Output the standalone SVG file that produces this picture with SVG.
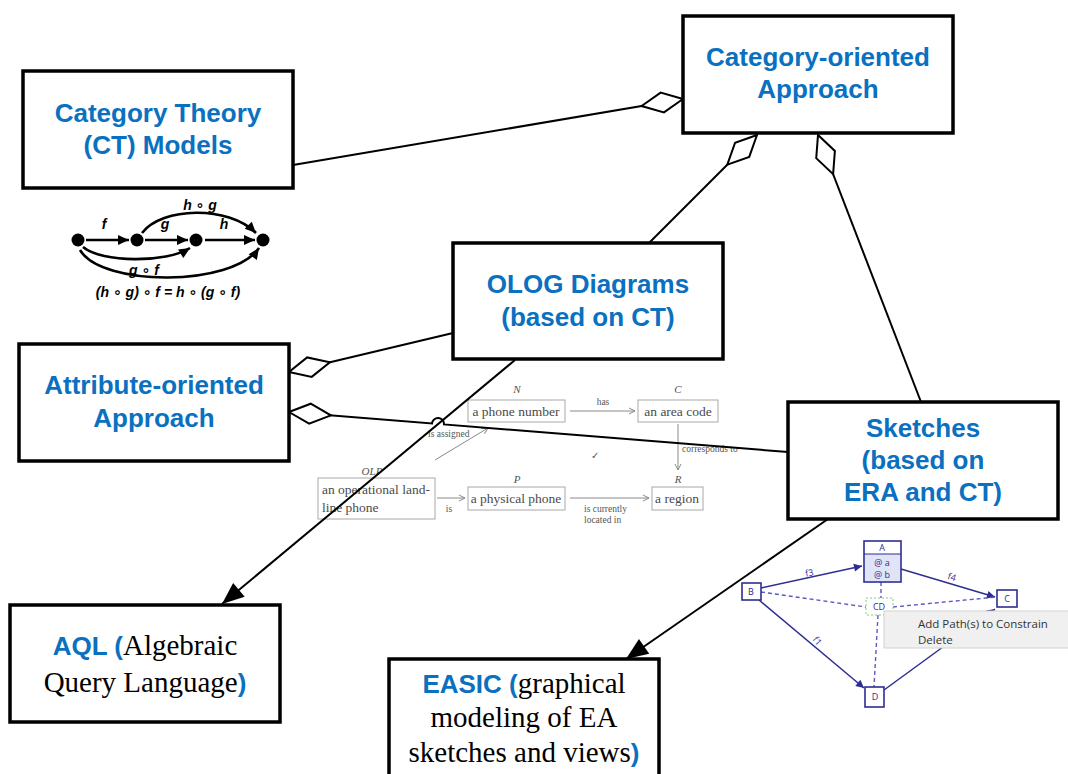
<svg xmlns="http://www.w3.org/2000/svg" width="1068" height="774" viewBox="0 0 1068 774">
  <style>
    .box { fill: #ffffff; stroke: #000000; stroke-width: 3.5; }
    .ttl { font-family: "Liberation Sans", Arial, sans-serif; font-weight: bold; font-size: 26px; fill: #0a70c0; text-anchor: middle; }
    .srf { font-family: "Liberation Serif", "Times New Roman", serif; font-weight: normal; fill: #000000; font-size: 29px; }
    .con { fill: none; stroke: #000000; stroke-width: 2; }
    .ct { font-family: "Liberation Sans", "DejaVu Sans", sans-serif; font-weight: bold; font-style: italic; font-size: 14px; fill: #000; text-anchor: middle; }
    .ctl { fill: none; stroke: #000; stroke-width: 2.6; }
    .olb { fill: #ffffff; stroke: #a8a8a8; stroke-width: 1; }
    .olt { font-family: "Liberation Serif", serif; font-size: 13.5px; fill: #4a4a4a; }
    .ols { font-family: "Liberation Serif", serif; font-size: 9.5px; fill: #555; }
    .oli { font-family: "Liberation Serif", serif; font-style: italic; font-size: 11px; fill: #555; text-anchor: middle; }
    .oll { fill: none; stroke: #8a8a8a; stroke-width: 1; }
    .skb { fill: #ffffff; stroke: #2d2d92; stroke-width: 1.6; }
    .ske { fill: none; stroke: #2d2d92; stroke-width: 1.5; }
    .skd { fill: none; stroke: #5a5ac0; stroke-width: 1.4; stroke-dasharray: 4 3; }
    .skt { font-family: "Open Sans", "Noto Sans", sans-serif; font-size: 9px; fill: #2d2d92; text-anchor: middle; }
    .mnu { font-family: "Open Sans", "Noto Sans", sans-serif; font-size: 11.5px; fill: #333; }
  </style>
  <defs>
    <marker id="diamond" viewBox="-44 -12 46 24" refX="0" refY="0" markerWidth="46" markerHeight="24" markerUnits="userSpaceOnUse" orient="auto">
      <path d="M0,0 L-21,-10 L-42,0 L-21,10 Z" fill="#ffffff" stroke="#000" stroke-width="2" stroke-linejoin="miter"/>
    </marker>
    <marker id="arrow" viewBox="-24 -11 26 22" refX="0" refY="0" markerWidth="26" markerHeight="22" markerUnits="userSpaceOnUse" orient="auto">
      <path d="M0,0 L-22,-9 L-22,9 Z" fill="#000"/>
    </marker>
    <marker id="ctarrow" viewBox="-12 -6 13 12" refX="0" refY="0" markerWidth="13" markerHeight="12" markerUnits="userSpaceOnUse" orient="auto">
      <path d="M0,0 L-11,-5 L-11,5 Z" fill="#000"/>
    </marker>
    <marker id="olarrow" viewBox="-8 -4 9 8" refX="0" refY="0" markerWidth="9" markerHeight="8" markerUnits="userSpaceOnUse" orient="auto">
      <path d="M0,0 L-6,-3 M0,0 L-6,3" fill="none" stroke="#8a8a8a" stroke-width="1"/>
    </marker>
    <marker id="skarrow" viewBox="-9 -5 10 10" refX="0" refY="0" markerWidth="10" markerHeight="10" markerUnits="userSpaceOnUse" orient="auto">
      <path d="M0,0 L-8,-4 L-8,4 Z" fill="#2d2d92"/>
    </marker>
  </defs>

  <rect x="0" y="0" width="1068" height="774" fill="#ffffff"/>

  <!-- small category theory composition picture -->
  <g id="ct-composition">
    <path class="ctl" d="M86,240 L129,240" marker-end="url(#ctarrow)"/>
    <path class="ctl" d="M145,240 L188,240" marker-end="url(#ctarrow)"/>
    <path class="ctl" d="M205,240 L255,240" marker-end="url(#ctarrow)"/>
    <path class="ctl" d="M142,233 C162,207 228,205 256,233" marker-end="url(#ctarrow)"/>
    <path class="ctl" d="M83,247 C102,263 166,263 190,248" marker-end="url(#ctarrow)"/>
    <path class="ctl" d="M80,250 C102,287 232,287 259,248" marker-end="url(#ctarrow)"/>
    <circle cx="78" cy="240" r="6.5" fill="#000"/>
    <circle cx="137" cy="240" r="6.5" fill="#000"/>
    <circle cx="196" cy="240" r="6.5" fill="#000"/>
    <circle cx="263" cy="240" r="6.5" fill="#000"/>
    <text class="ct" x="104" y="229">f</text>
    <text class="ct" x="165" y="229">g</text>
    <text class="ct" x="224" y="229">h</text>
    <text class="ct" x="200" y="210">h ∘ g</text>
    <text class="ct" x="144" y="275">g ∘ f</text>
    <text class="ct" x="168" y="297">(h ∘ g) ∘ f = h ∘ (g ∘ f)</text>
  </g>

  <!-- olog example picture -->
  <g id="olog-example">
    <text class="oli" x="517" y="393">N</text>
    <rect class="olb" x="468" y="400" width="97" height="22"/>
    <text class="olt" x="516" y="416" text-anchor="middle">a phone number</text>
    <path class="oll" d="M570,411 L635,411" marker-end="url(#olarrow)"/>
    <text class="ols" x="603" y="405" text-anchor="middle">has</text>
    <text class="oli" x="678" y="393">C</text>
    <rect class="olb" x="638" y="400" width="80" height="22"/>
    <text class="olt" x="678" y="416" text-anchor="middle">an area code</text>
    <path class="oll" d="M678,424 L678,470" marker-end="url(#olarrow)"/>
    <text class="ols" x="682" y="452">corresponds to</text>
    <text class="oli" x="678" y="483">R</text>
    <rect class="olb" x="652" y="487" width="51" height="23"/>
    <text class="olt" x="677" y="503" text-anchor="middle">a region</text>
    <text class="oli" x="372" y="475">OLP</text>
    <rect class="olb" x="318" y="478" width="117" height="41"/>
    <text class="olt" x="322" y="494">an operational land-</text>
    <text class="olt" x="322" y="512">line phone</text>
    <path class="oll" d="M437,498 L465,498" marker-end="url(#olarrow)"/>
    <text class="ols" x="449" y="512" text-anchor="middle">is</text>
    <text class="oli" x="517" y="483">P</text>
    <rect class="olb" x="468" y="487" width="97" height="23"/>
    <text class="olt" x="516" y="503" text-anchor="middle">a physical phone</text>
    <path class="oll" d="M570,498 L649,498" marker-end="url(#olarrow)"/>
    <text class="ols" x="584" y="512">is currently</text>
    <text class="ols" x="584" y="523">located in</text>
    <path class="oll" d="M435,460 L488,428" marker-end="url(#olarrow)"/>
    <text class="ols" x="428" y="437">is assigned</text>
    <text class="ols" x="595" y="459" text-anchor="middle">✓</text>
  </g>

  <!-- sketch editor picture -->
  <g id="sketch-editor">
    <path class="ske" d="M761,588 L862,566" marker-end="url(#skarrow)"/>
    <path class="ske" d="M901,569 L995,597" marker-end="url(#skarrow)"/>
    <path class="ske" d="M759,600 L864,688" marker-end="url(#skarrow)"/>
    <path class="ske" d="M884,690 L995,609" marker-end="url(#skarrow)"/>
    <path class="skd" d="M761,592 L866,607"/>
    <path class="skd" d="M893,607 L997,597"/>
    <path class="skd" d="M881,582 L881,598" stroke-dasharray="2 2"/>
    <path class="skd" d="M878,615 L874,687" stroke-dasharray="2 2"/>
    <rect class="skb" x="864" y="541" width="37" height="41"/>
    <rect x="865" y="554" width="35" height="27" fill="#dfe4f6"/>
    <line x1="864" y1="554" x2="901" y2="554" stroke="#2d2d92" stroke-width="1"/>
    <text class="skt" x="882" y="551">A</text>
    <text class="skt" x="882" y="566">@ a</text>
    <text class="skt" x="882" y="578">@ b</text>
    <rect class="skb" x="742" y="583" width="19" height="17"/>
    <text class="skt" x="751" y="595">B</text>
    <rect class="skb" x="997" y="590" width="20" height="17"/>
    <text class="skt" x="1007" y="602">C</text>
    <rect class="skb" x="865" y="687" width="19" height="20"/>
    <text class="skt" x="875" y="700">D</text>
    <rect x="866" y="598" width="27" height="17" fill="#ffffff" stroke="#7fd07f" stroke-width="1" stroke-dasharray="2 2"/>
    <text class="skt" x="879" y="610">CD</text>
    <text class="skt" x="810" y="576" transform="rotate(-12 810 576)">f3</text>
    <text class="skt" x="951" y="580" transform="rotate(17 951 580)">f4</text>
    <text class="skt" x="815" y="643" transform="rotate(50 815 643)">f1</text>
    <rect x="884" y="611" width="186" height="37" fill="#f0f0f0" stroke="#d2d2d2" stroke-width="1"/>
    <text class="mnu" x="918" y="628">Add Path(s) to Constrain</text>
    <text class="mnu" x="918" y="644">Delete</text>
  </g>

  <!-- connectors -->
  <g id="connectors">
    <path class="con" d="M293,165 L683,99" marker-end="url(#diamond)"/>
    <path class="con" d="M649,243 L757,135" marker-end="url(#diamond)"/>
    <path class="con" d="M921,402 L818,135" marker-end="url(#diamond)"/>
    <path class="con" d="M453,333 L289,372" marker-end="url(#diamond)"/>
    <path class="con" d="M788,452 L444,424.4 A6,6 0 0 0 432,423.5 L289,412" marker-end="url(#diamond)"/>
    <path class="con" d="M515,360 L222,604" marker-end="url(#arrow)"/>
    <path class="con" d="M828,519 L626,659" marker-end="url(#arrow)"/>
  </g>

  <g id="node-ct-models">
    <rect class="box" x="23" y="71" width="270" height="117"/>
    <text class="ttl" x="158" y="122">Category Theory</text>
    <text class="ttl" x="158" y="154">(CT) Models</text>
  </g>

  <g id="node-category-oriented">
    <rect class="box" x="683" y="16" width="270" height="117"/>
    <text class="ttl" x="818" y="66">Category-oriented</text>
    <text class="ttl" x="818" y="98">Approach</text>
  </g>

  <g id="node-olog">
    <rect class="box" x="453" y="243" width="270" height="116"/>
    <text class="ttl" x="588" y="293">OLOG Diagrams</text>
    <text class="ttl" x="588" y="326">(based on CT)</text>
  </g>

  <g id="node-attribute-oriented">
    <rect class="box" x="19" y="344" width="270" height="117"/>
    <text class="ttl" x="154" y="394">Attribute-oriented</text>
    <text class="ttl" x="154" y="427">Approach</text>
  </g>

  <g id="node-sketches">
    <rect class="box" x="788" y="402" width="270" height="117"/>
    <text class="ttl" x="923" y="437">Sketches</text>
    <text class="ttl" x="923" y="469">(based on</text>
    <text class="ttl" x="923" y="501">ERA and CT)</text>
  </g>

  <g id="node-aql">
    <rect class="box" x="10" y="605" width="270" height="117"/>
    <text class="ttl" x="145" y="655">AQL (<tspan class="srf">Algebraic</tspan></text>
    <text class="ttl" x="145" y="692"><tspan class="srf">Query Language</tspan>)</text>
  </g>

  <g id="node-easic">
    <rect class="box" x="389" y="659" width="270" height="130"/>
    <text class="ttl" x="524" y="693">EASIC (<tspan class="srf">graphical</tspan></text>
    <text class="srf" x="524" y="727" text-anchor="middle">modeling of EA</text>
    <text class="ttl" x="524" y="762"><tspan class="srf">sketches and views</tspan>)</text>
  </g>
</svg>
